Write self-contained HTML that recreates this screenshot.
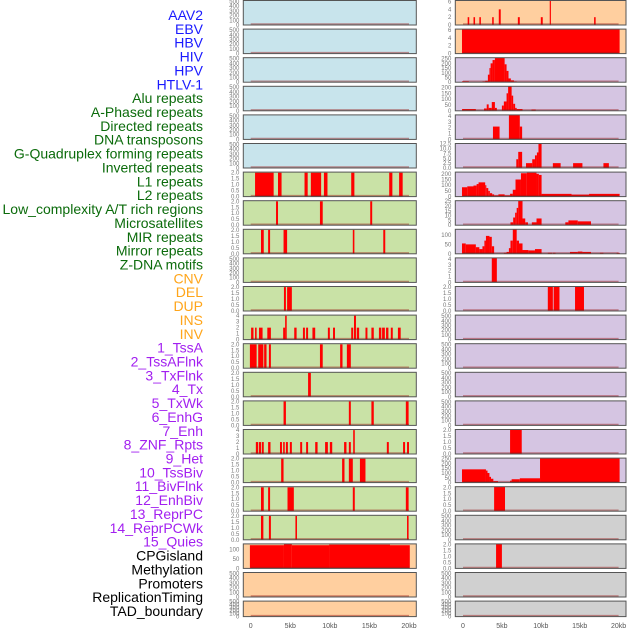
<!DOCTYPE html>
<html><head><meta charset="utf-8"><style>
html,body{margin:0;padding:0;background:#fff;}
svg{display:block;font-family:"Liberation Sans",sans-serif;}
</style></head><body>
<svg id="chart" width="630" height="630" viewBox="0 0 630 630" xmlns="http://www.w3.org/2000/svg"></svg>
<script>
// ---------- data ----------
const trackLabels = ["AAV2","EBV","HBV","HIV","HPV","HTLV-1","Alu repeats","A-Phased repeats","Directed repeats","DNA transposons","G-Quadruplex forming repeats","Inverted repeats","L1 repeats","L2 repeats","Low_complexity A/T rich regions","Microsatellites","MIR repeats","Mirror repeats","Z-DNA motifs","CNV","DEL","DUP","INS","INV","1_TssA","2_TssAFlnk","3_TxFlnk","4_Tx","5_TxWk","6_EnhG","7_Enh","8_ZNF_Rpts","9_Het","10_TssBiv","11_BivFlnk","12_EnhBiv","13_ReprPC","14_ReprPCWk","15_Quies","CPGisland","Methylation","Promoters","ReplicationTiming","TAD_boundary"];
const labelGroups = [0,0,0,0,0,0,1,1,1,1,1,1,1,1,1,1,1,1,1,2,2,2,2,2,3,3,3,3,3,3,3,3,3,3,3,3,3,3,3,4,4,4,4,4];
const xTickValues = [0,5,10,15,20];
const xTickLabels = ["0","5kb","10kb","15kb","20kb"];

const T500 = [0,100,200,300,400,500];
const T2 = [0,0.5,1,1.5,2];
const T4 = [0,1,2,3,4];

// middle column: [ymax, ticks, segments [startKb,endKb,value]]
const midScale = [
 [520,T500],[520,T500],[520,T500],[520,T500],[520,T500],[520,T500],
 [2.05,T2],[2.05,T2],[2.05,T2],[520,T500],[2.05,T2],[4.1,T4],[2.05,T2],[2.05,T2],[2.05,T2],[4.1,T4],[2.05,T2],[2.05,T2],[2.05,T2],
 [131,[0,50,100]],[520,T500],[520,T500]
];
const midSeg6 = [[0.55,2.9,2],[3.45,3.9,2],[6.8,7.2,2],[7.6,8.9,2],[9.25,9.7,2],[12.7,13.1,2],[17.5,17.9,2],[18.75,19.2,2]];
const midSeg7 = [[3.2,3.45,2],[8.75,9.1,2],[15.1,15.35,2]];
const midSeg8 = [[1.3,1.65,2],[2.2,2.45,2],[4.15,4.6,2],[12.9,13.1,2],[16.75,17.0,2]];
const midSeg10 = [[4.2,4.45,2],[4.6,5.2,2]];
const midSeg11 = [[0.05,0.35,2],[0.55,0.75,2],[1.05,1.5,2],[2.1,2.55,2],[4.1,4.35,2],[4.35,4.55,4],[5.5,5.8,2],[6.6,6.85,2],[7.0,7.25,2],[7.8,8.15,2],[9.75,10.0,2],[10.4,10.65,2],[12.7,12.95,2],[13.05,13.3,4],[13.4,13.7,2],[14.5,14.75,2],[15.25,15.55,2],[16.2,16.5,2],[16.6,16.95,2],[17.1,17.4,2],[17.7,17.95,2],[18.6,18.95,2]];
const midSeg12 = [[-0.1,0.75,2],[0.95,1.6,2],[1.7,2.0,2],[2.3,2.55,2],[8.75,9.1,2],[11.3,11.6,2],[12.15,12.65,2]];
const midSeg13 = [[7.25,7.6,2]];
const midSeg14 = [[4.15,4.45,2],[12.4,12.65,2],[15.25,15.55,2],[19.6,19.95,2]];
const midSeg15 = [[0.65,0.95,2],[1.05,1.3,2],[1.4,1.65,2],[2.2,2.5,2],[3.7,3.95,2],[4.1,4.3,2],[4.45,4.7,2],[4.95,5.2,2],[6.25,6.5,2],[7.0,7.25,2],[8.15,8.45,2],[9.4,9.75,2],[10.0,10.3,2],[11.8,12.1,2],[12.4,12.65,2],[12.95,13.15,4],[17.2,17.45,2],[19.25,19.5,2],[19.75,20.0,2]];
const midSeg16 = [[3.85,4.15,2],[11.55,11.85,2],[12.4,12.9,2],[13.8,14.5,2]];
const midSeg17 = [[1.3,1.65,2],[2.2,2.45,2],[4.65,5.45,2],[12.9,13.15,2],[19.6,19.95,2]];
const midSeg18 = [[1.3,1.6,2],[2.3,2.55,2],[5.65,5.85,2],[19.75,19.95,2]];
const midSeg19 = [[-0.1,4.2,124],[4.2,5.2,130],[5.2,9.9,124],[9.9,17.6,127],[17.6,20.1,124]];
const midSegs = [[],[],[],[],[],[],midSeg6,midSeg7,midSeg8,[],midSeg10,midSeg11,midSeg12,midSeg13,midSeg14,midSeg15,midSeg16,midSeg17,midSeg18,midSeg19,[],[]];

const rightScale = [
 [6.26,[0,2,4,6]],[6.2,[0,2,4,6]],[260,[0,50,100,150,200,250]],[210,[0,50,100,150,200]],[4.2,T4],[12.6,[0,2.5,5,7.5,10,12.5]],
 [215,[0,50,100,150,200]],[25.5,[0,5,10,15,20,25]],[130,[0,50,100]],[4.2,T4],[2.05,T2],[520,T500],[520,T500],[520,T500],[520,T500],
 [2.05,T2],[255,[0,50,100,150,200,250]],[2.05,T2],[520,T500],[2.05,T2],[520,T500],[520,T500]
];
const rSeg0 = [[0.6,0.8,2],[1.35,1.55,2],[2.1,2.3,2],[3.75,3.95,2],[4.6,4.85,4],[7.05,7.3,2],[10.0,10.25,2],[11.15,11.3,7],[16.85,17.05,2]];
const rSeg1 = [[-0.13,20.13,7]];
const rSeg2 = [[-0.13,0.75,10],[2.5,2.85,8],[2.85,3.2,15],[3.2,3.4,80],[3.4,3.55,150],[3.55,3.8,200],[3.8,4.1,235],[4.1,5.35,260],[5.35,5.6,190],[5.6,5.85,120],[5.85,6.15,40],[6.15,6.55,20],[6.55,6.9,8]];
const rSeg3 = [[-0.13,1.65,15],[2.7,3.05,20],[3.05,3.3,55],[3.3,3.7,25],[3.7,4.1,75],[4.1,4.35,25],[5.0,5.25,45],[5.25,5.6,80],[5.6,5.8,150],[5.8,6.25,210],[6.25,6.45,130],[6.45,6.7,60],[6.7,6.9,25],[6.9,7.65,15],[8.8,9.35,10]];
const rSeg4 = [[3.85,4.7,2.2],[5.9,7.3,4.3],[7.3,7.6,2.2]];
const rSeg5 = [[6.85,7.1,4.5],[7.1,7.6,8.3],[8.1,8.9,2.5],[8.9,9.25,4.5],[9.25,9.5,6.5],[9.5,9.7,8],[9.7,10.1,13],[11.55,12.55,2.5],[14.15,15.35,2.5],[18.05,18.75,2.5]];
const rSeg6 = [[-0.13,0.55,82],[0.55,1.35,90],[1.35,1.75,97],[1.75,2.0,110],[2.0,2.85,125],[2.85,3.0,100],[3.0,3.25,75],[3.25,3.45,50],[3.45,3.75,30],[3.75,4.0,20],[4.0,4.55,10],[4.55,5.35,20],[5.35,6.05,10],[6.05,6.4,25],[6.4,6.75,60],[6.75,7.45,150],[7.45,8.2,205],[8.2,9.45,210],[9.45,9.75,200],[9.75,10.1,190],[10.1,13.95,24],[13.95,16.2,18],[16.2,20.13,24]];
const rSeg7 = [[6.1,6.45,3],[6.45,6.7,8],[6.7,6.9,13],[6.9,7.1,18],[7.1,7.65,26],[7.65,8.0,7],[8.0,8.35,3],[8.85,9.45,3],[9.45,10.1,7],[13.15,13.55,3],[13.55,14.75,5],[14.75,16.45,4]];
const rSeg8 = [[-0.13,0.35,55],[0.35,1.65,50],[1.65,2.1,35],[2.1,2.5,25],[2.5,2.75,40],[2.75,2.95,70],[2.95,3.4,95],[3.4,3.7,90],[3.7,4.0,40],[5.25,5.6,5],[5.6,5.9,10],[5.9,6.1,30],[6.1,6.4,70],[6.4,6.9,135],[6.9,7.2,70],[7.2,7.65,55],[7.65,8.4,20],[8.4,9.25,18],[9.25,10.1,25],[10.9,11.45,5],[11.55,11.9,5],[13.75,14.75,10],[14.75,15.35,12],[15.35,16.45,10],[17.6,18.05,5],[19.75,20.15,5]];
const rSeg9 = [[3.7,4.35,4.3]];
const rSeg10 = [[10.9,11.55,2.1],[11.65,12.4,2.1],[14.4,15.55,2.1]];
const rSeg15 = [[6.05,7.55,2.1]];
const rSeg16 = [[-0.13,2.95,138],[2.95,3.15,125],[3.15,3.4,100],[3.4,3.6,60],[3.6,3.9,40],[3.9,4.5,15],[6.05,6.25,20],[6.25,7.3,35],[7.3,9.9,45],[9.9,20.13,260]];
const rSeg17 = [[4.0,5.4,2.1]];
const rSeg19 = [[4.25,5.0,2.1]];
const rightSegs = [rSeg0,rSeg1,rSeg2,rSeg3,rSeg4,rSeg5,rSeg6,rSeg7,rSeg8,rSeg9,rSeg10,[],[],[],[],rSeg15,rSeg16,rSeg17,[],rSeg19,[],[]];

// ---------- styles ----------
const groupColors = ["#1a1aff","#0b6b0b","#ffa51a","#a21ff0","#000000"];
const midBg = i => i<6 ? "#c8e4ec" : (i<19 ? "#c9e2a6" : "#ffcf9f");
const rightBg = i => i<2 ? "#ffcf9f" : (i<17 ? "#d5c5e2" : "#d0d0d0");
const NS = "http://www.w3.org/2000/svg";
const svg = document.getElementById("chart");
function el(tag, attrs, parent){ const e=document.createElementNS(NS,tag); for(const k in attrs) e.setAttribute(k,attrs[k]); (parent||svg).appendChild(e); return e; }

const rowTop = i => 0.5 + 28.6*i;
const rowH = i => i===21 ? 15.5 : 24.5;
const midX = kb => 250.7 + kb*7.915;
const rightX = kb => 463 + kb*7.78;
const cols = [
 {x0:243.3, w:173, xs:midX, bg:midBg, scales:midScale, segs:midSegs, name:"left"},
 {x0:455.3, w:170.7, xs:rightX, bg:rightBg, scales:rightScale, segs:rightSegs, name:"right"}
];

// labels
trackLabels.forEach((t,i)=>{
  const tx = el("text",{x:203,y:20+13.86*i,"text-anchor":"end","font-size":"14",fill:groupColors[labelGroups[i]]});
  
  
  tx.textContent = t;
});

function fmt(v, ticks){ const dec = ticks.some(t=>t%1!==0); return dec ? v.toFixed(1) : String(v); }

cols.forEach(c=>{
  for(let i=0;i<22;i++){
    const top=rowTop(i), h=rowH(i), bottom=top+h;
    const g = el("g",{});
    
    
    const [ymax, ticks] = c.scales[i];
    const ys = v => bottom - Math.min(v,ymax)/ymax*h;
    const bg = el("rect",{x:c.x0,y:top,width:c.w,height:h,fill:c.bg(i)},g);
    
    
    c.segs[i].forEach(s=>{
      const x1=Math.max(c.x0,c.xs(s[0])), x2=Math.min(c.x0+c.w,c.xs(s[1]));
      const r = el("rect",{x:x1,y:ys(s[2]),width:Math.max(0.8,x2-x1),height:bottom-ys(s[2]),fill:"#ff0000"},g);
      
      
    });
    const bl = el("line",{x1:c.xs(0),x2:c.xs(20),y1:bottom-1,y2:bottom-1,stroke:"rgba(150,20,20,0.45)","stroke-width":1.4},g);
    
    
    const br = el("rect",{x:c.x0,y:top,width:c.w,height:h,fill:"none",stroke:"#555","stroke-width":1},g);
    
    
    ticks.forEach(t=>{
      const tl = el("text",{x:c.x0-4,y:ys(t)+2,"text-anchor":"end","font-size":"6",fill:"#777"},g);
      
      
      tl.textContent = fmt(t,ticks);
    });
  }
  xTickValues.forEach((v,k)=>{
    const xl = el("text",{x:c.xs(v),y:628,"text-anchor":"middle","font-size":"7",fill:"#555"});
    
    
    xl.textContent = xTickLabels[k];
  });
});
</script>
</body></html>
